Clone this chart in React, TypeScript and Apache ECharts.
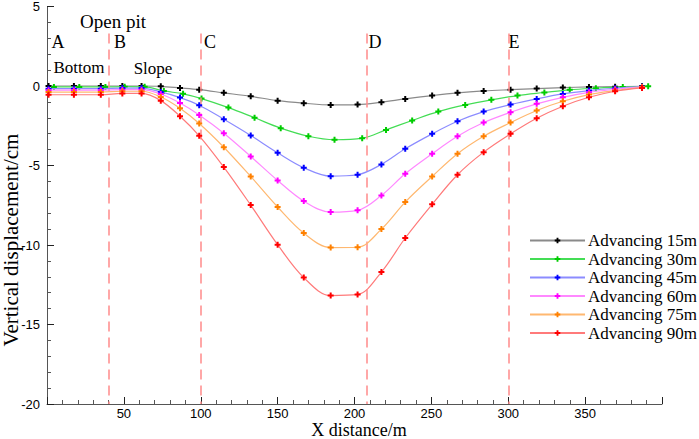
import React, { useEffect, useRef } from "react";
import * as echarts from "echarts";

const xs = [1, 17.5, 35, 49, 61.5, 74, 86.5, 99, 115, 132.5, 150, 167, 184.5, 202, 217.5, 233, 250.5, 267, 284, 301.5, 318.5, 335.5, 352.5, 369.5, 387];
const xsGreen = [4.5, 21, 38, 50.5, 63.5, 76, 88.5, 100.5, 118, 135, 152, 170, 187, 205, 220.5, 237.5, 254.5, 272, 289, 306, 323.5, 340, 357, 374.5, 391];

const adv15 = [0, 0, 0, 0, 0, -0.02, -0.12, -0.23, -0.43, -0.65, -0.92, -1.08, -1.19, -1.17, -1.02, -0.81, -0.6, -0.43, -0.31, -0.23, -0.16, -0.1, -0.06, -0.04, -0.02];
const adv30 = [-0.06, -0.06, -0.06, -0.04, -0.05, -0.31, -0.49, -0.79, -1.36, -2.0, -2.65, -3.16, -3.38, -3.28, -2.76, -2.17, -1.61, -1.19, -0.87, -0.6, -0.41, -0.24, -0.14, -0.06, -0.02];
const adv45 = [-0.17, -0.17, -0.17, -0.13, -0.13, -0.37, -0.73, -1.21, -2.09, -3.11, -4.2, -5.14, -5.67, -5.58, -4.93, -3.95, -3.01, -2.22, -1.61, -1.17, -0.81, -0.5, -0.29, -0.14, -0.04];
const adv60 = [-0.26, -0.26, -0.26, -0.23, -0.23, -0.5, -1.07, -1.82, -2.97, -4.43, -5.94, -7.24, -7.93, -7.82, -6.88, -5.52, -4.26, -3.16, -2.3, -1.65, -1.12, -0.71, -0.4, -0.21, -0.06];
const adv75 = [-0.38, -0.38, -0.38, -0.33, -0.33, -0.69, -1.4, -2.36, -3.85, -5.69, -7.61, -9.25, -10.16, -10.14, -9.0, -7.3, -5.69, -4.26, -3.16, -2.3, -1.54, -0.96, -0.54, -0.29, -0.08];
const adv90 = [-0.55, -0.55, -0.55, -0.47, -0.47, -0.92, -1.9, -3.13, -5.1, -7.49, -9.98, -12.05, -13.18, -13.11, -11.7, -9.56, -7.44, -5.58, -4.16, -3.01, -2.03, -1.27, -0.71, -0.33, -0.12];

const seriesNames = ["Advancing 15m", "Advancing 30m", "Advancing 45m", "Advancing 60m", "Advancing 75m", "Advancing 90m"];
const seriesValues = [adv15, adv30, adv45, adv60, adv75, adv90];
const seriesXs = [xs, xsGreen, xs, xs, xs, xs];
const lineColors = ["#8a8a8a", "#44dd55", "#8c8cff", "#ff88ff", "#ffb870", "#ff7a7a"];
const markerColors = ["#000000", "#00cc00", "#0000ff", "#ff00ff", "#ff8000", "#ff0000"];

const guideX = [40, 100, 208, 300];
const guideTop = 3.3;

const serif = "'Liberation Serif', 'Times New Roman', Times, serif";
const narrow = "'Liberation Sans Narrow', 'Arial Narrow', 'Liberation Sans', Arial, sans-serif";

const marker = "path://M1,0L2,0L2,1L3,1L3,2L2,2L2,3L1,3L1,2L0,2L0,1L1,1Z";

export default function App() {
  const ref = useRef<HTMLDivElement>(null);
  useEffect(() => {
    if (!ref.current) return;
    const chart = echarts.init(ref.current, undefined, { renderer: "svg" });
    const series: any[] = seriesNames.map((name, i) => ({
      name,
      type: "line",
      data: seriesValues[i].map((v, j) => [seriesXs[i][j], v]),
      smooth: 0.35,
      symbol: marker,
      symbolSize: 6,
      showSymbol: true,
      lineStyle: { color: lineColors[i], width: 1.2 },
      itemStyle: { color: markerColors[i] },
      z: 3 + i,
    }));
    series[0].markLine = {
      silent: true,
      symbol: "none",
      animation: false,
      label: { show: false },
      lineStyle: { color: "#ff8a8a", type: [10, 6], width: 1.5 },
      data: guideX.map((gx) => [
        { coord: [gx, guideTop] },
        { coord: [gx, -20] },
      ]),
    };
    const txt = (text: string, x: number, y: number, size: number, extra: any = {}) => ({
      type: "text",
      x,
      y,
      ...extra,
      style: {
        text,
        font: `${size}px ${serif}`,
        fill: "#000",
        align: "center",
        verticalAlign: "middle",
      },
    });
    chart.setOption({
      animation: false,
      backgroundColor: "#ffffff",
      grid: { left: 47, right: 37, top: 6, bottom: 35 },
      legend: {
        data: seriesNames,
        orient: "vertical",
        left: 524,
        top: 227,
        itemWidth: 55,
        itemHeight: 7,
        itemGap: 1.5,
        textStyle: { fontFamily: serif, fontSize: 17, color: "#000", lineHeight: 17, padding: [0, 0, 0, -2] },
      },
      xAxis: {
        type: "value",
        min: 0,
        max: 400,
        interval: 50,
        axisLine: { onZero: false, lineStyle: { color: "#555", width: 1 } },
        axisTick: { inside: true, length: 7, lineStyle: { color: "#222" } },
        minorTick: { show: true, splitNumber: 5, length: 4, lineStyle: { color: "#555" } },
        splitLine: { show: false },
        axisLabel: {
          fontFamily: narrow,
          fontSize: 13,
          lineHeight: 13,
          color: "#000",
          margin: 3,
          formatter: (v: number) => (v === 0 || v === 400 ? "" : String(v)),
        },
      },
      yAxis: {
        type: "value",
        min: -20,
        max: 5,
        interval: 5,
        axisLine: { show: true, onZero: false, lineStyle: { color: "#555", width: 1 } },
        axisTick: { show: true, inside: true, length: 7, lineStyle: { color: "#222" } },
        minorTick: { show: true, splitNumber: 5, length: 4, lineStyle: { color: "#555" } },
        splitLine: { show: false },
        axisLabel: { fontFamily: narrow, fontSize: 13, color: "#000", margin: 7 },
      },
      graphic: [
        txt("Vertical displacement/cm", 11, 240, 21, { rotation: Math.PI / 2 }),
        txt("X distance/m", 359, 430, 18),
        txt("Open pit", 113, 21, 19),
        txt("A", 58, 42, 18),
        txt("B", 120, 42, 18),
        txt("C", 210, 42, 18),
        txt("D", 375, 42, 18),
        txt("E", 514, 42, 18),
        txt("Bottom", 79, 67, 17),
        txt("Slope", 153, 68, 17),
      ],
      series,
    });
    return () => chart.dispose();
  }, []);
  return (
    <div
      ref={ref}
      style={{ position: "fixed", left: 0, top: 0, width: 699, height: 439, background: "#fff" }}
    />
  );
}
